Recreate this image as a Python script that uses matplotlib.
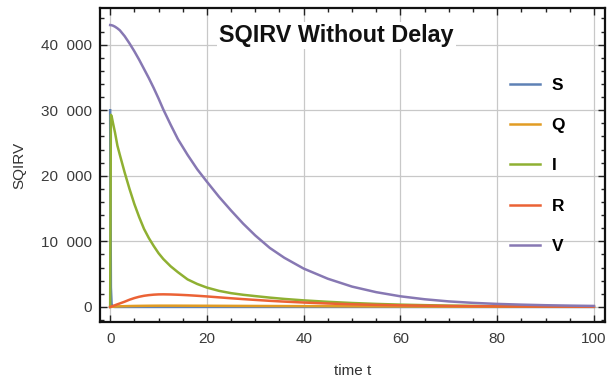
import numpy as np
import matplotlib.pyplot as plt
from matplotlib.ticker import MultipleLocator, FuncFormatter

plt.rcParams['font.family'] = ['Liberation Sans', 'DejaVu Sans']

# time samples
t = [0, 0.15, 0.3, 0.6, 1, 1.5, 2, 3, 4, 5, 6, 7, 8, 9, 10, 11, 12.5, 14, 16, 18,
     20, 22.5, 25, 27.5, 30, 33, 36, 40, 45, 50, 55, 60, 65, 70, 75, 80, 85, 90, 95, 100]

S = [30000, 3000, 400, 30, 0, 0, 0, 0, 0, 0, 0, 0, 0, 0, 0, 0, 0, 0, 0, 0,
     0, 0, 0, 0, 0, 0, 0, 0, 0, 0, 0, 0, 0, 0, 0, 0, 0, 0, 0, 0]
Q = [0, 10, 20, 35, 55, 75, 90, 115, 135, 150, 160, 170, 178, 184, 188, 190, 190, 188, 184, 180,
     175, 168, 160, 152, 145, 137, 128, 118, 105, 92, 80, 68, 58, 48, 40, 33, 27, 22, 18, 15]
I = [0, 29300, 29100, 28000, 26600, 24600, 23200, 20500, 18000, 15700, 13700, 11900, 10500, 9300, 8200, 7300, 6200, 5300, 4200, 3500,
     2950, 2450, 2100, 1850, 1650, 1420, 1220, 1000, 780, 600, 460, 350, 270, 200, 160, 120, 95, 75, 60, 50]
R = [0, 30, 70, 150, 260, 400, 530, 800, 1100, 1350, 1550, 1700, 1800, 1870, 1910, 1920, 1900, 1860, 1790, 1700,
     1600, 1460, 1320, 1190, 1070, 930, 810, 670, 520, 400, 310, 240, 185, 145, 110, 85, 65, 50, 40, 30]
V = [43000, 42990, 42970, 42900, 42750, 42500, 42200, 41300, 40200, 39000, 37700, 36300, 34900, 33400, 31800, 30100, 27800, 25600, 23200, 21000,
     19100, 16800, 14700, 12700, 10900, 9000, 7500, 5850, 4300, 3100, 2250, 1620, 1170, 840, 620, 460, 350, 260, 200, 150]

names = ['S', 'Q', 'I', 'R', 'V']
colors = ['#5E81B5', '#E19C24', '#8FB032', '#EB6235', '#8778B3']

fig = plt.figure(figsize=(6.08, 3.82), dpi=100)
ax = fig.add_axes([100 / 608, 60 / 382, 505 / 608, 314 / 382])

for y, name, c in zip([S, Q, I, R, V], names, colors):
    ax.plot(t, y, color=c, lw=1.8, label=name, solid_joinstyle='round')

ax.set_xlim(-2.1, 102.3)
ax.set_ylim(-2300, 45600)

ax.xaxis.set_major_locator(MultipleLocator(20))
ax.xaxis.set_minor_locator(MultipleLocator(5))
ax.yaxis.set_major_locator(MultipleLocator(10000))
ax.yaxis.set_minor_locator(MultipleLocator(2000))
ax.yaxis.set_major_formatter(FuncFormatter(lambda v, p: f'{int(v):,}'.replace(',', '  ')))

ax.grid(True, which='major', color='#c8c8c8', lw=0.9)
ax.set_axisbelow(True)

ax.tick_params(which='both', direction='in', top=True, right=True,
               colors='#222222', labelcolor='#3a3a3a', labelsize=11, width=1)
ax.tick_params(which='major', length=5)
ax.tick_params(which='minor', length=3)
ax.tick_params(axis='x', pad=7)
ax.tick_params(axis='y', pad=6)
for sp in ax.spines.values():
    sp.set_linewidth(1.6)
    sp.set_color('#111111')

ax.set_xlabel('time t', fontsize=11, color='#333333', labelpad=13)
ax.set_ylabel('SQIRV', fontsize=11, color='#333333', labelpad=10)

ax.text(0.468, 0.912, 'SQIRV Without Delay', transform=ax.transAxes,
        ha='center', va='center', fontsize=16.8, fontweight='bold', color='#111111',
        bbox=dict(facecolor='white', edgecolor='none', pad=1.5))

leg = ax.legend(loc='upper left', bbox_to_anchor=(0.781, 0.828), frameon=False,
                prop={'size': 12.5, 'weight': 'bold'}, handlelength=1.75,
                handletextpad=0.65, labelspacing=1.45)
for line in leg.get_lines():
    line.set_linewidth(1.8)

fig.savefig('out.png', dpi=100)
